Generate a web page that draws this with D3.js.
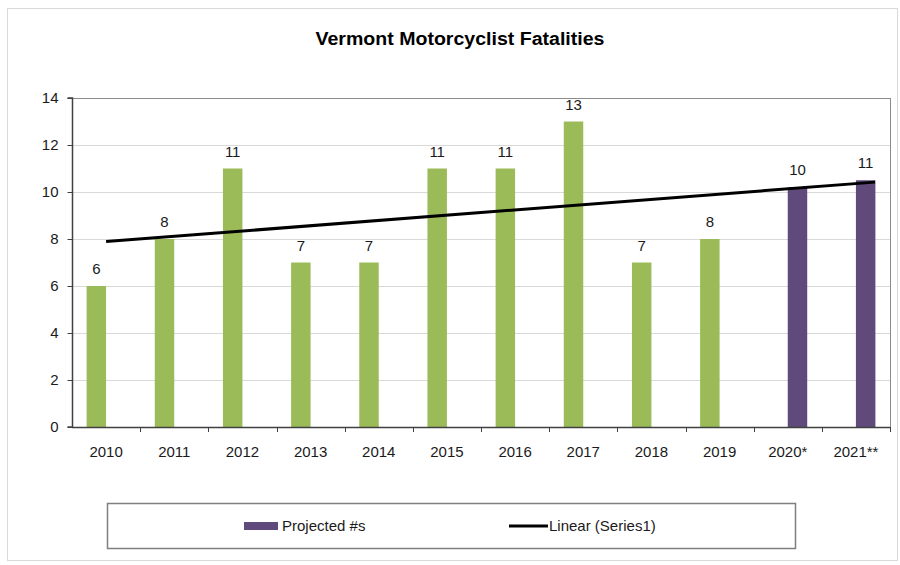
<!DOCTYPE html>
<html>
<head>
<meta charset="utf-8">
<script src="https://cdn.jsdelivr.net/npm/d3@7"></script>
<style>
  body { margin: 0; background: #fff; }
  text { font-family: "Liberation Sans", Arial, sans-serif; fill: #1a1a1a; }
</style>
</head>
<body>
<div id="chart"></div>
<script>
// chart data
const years = ["2010", "2011", "2012", "2013", "2014", "2015", "2016", "2017", "2018", "2019", "2020*", "2021**"];
const series1 = [6, 8, 11, 7, 7, 11, 11, 13, 7, 8, null, null];
const projected = [null, null, null, null, null, null, null, null, null, null, 10.2, 10.5];
const yTicks = [0, 2, 4, 6, 8, 10, 12, 14];
const seriesNames = ["Series1", "Projected #s"];
const trendName = "Linear (Series1)";
const trendForward = 2.28; // periods the trendline is extended past the last point

const W = 900, H = 565;
const m = {t: 98, r: 10, b: 138, l: 72};
const colors = {"Series1": "#9bbb59", "Projected #s": "#604a7b"};

const svg = d3.select("#chart").append("svg")
    .attr("width", W).attr("height", H);

// outer frame
svg.append("rect").attr("x", 7.5).attr("y", 8.5)
    .attr("width", 890).attr("height", 552)
    .attr("fill", "#fff").attr("stroke", "#d9d9d9");

svg.append("text").attr("x", 460).attr("y", 45)
    .attr("text-anchor", "middle")
    .style("font-size", "18px").style("font-weight", "bold")
    .style("fill", "#000")
    .attr("textLength", 289).attr("lengthAdjust", "spacingAndGlyphs")
    .text("Vermont Motorcyclist Fatalities");

const x = d3.scaleBand().domain(years).range([m.l, W - m.r]).padding(0);
const x1 = d3.scaleBand().domain(seriesNames).range([0, x.bandwidth()])
    .paddingInner(0).paddingOuter(0.75);
const y = d3.scaleLinear().domain([0, 14]).range([H - m.b, m.t]);

// gridlines
svg.append("g").selectAll("line").data(yTicks.slice(1)).enter().append("line")
    .attr("x1", m.l).attr("x2", W - m.r)
    .attr("y1", d => Math.round(y(d)) + 0.5).attr("y2", d => Math.round(y(d)) + 0.5)
    .attr("stroke", d => d === 14 ? "#8c8c8c" : "#d9d9d9");

// right border of plot area
svg.append("line").attr("x1", W - m.r + 0.5).attr("x2", W - m.r + 0.5)
    .attr("y1", m.t).attr("y2", H - m.b)
    .attr("stroke", "#8c8c8c");

// bars
const rows = years.map((yr, i) => [
    {year: yr, key: "Series1", v: series1[i]},
    {year: yr, key: "Projected #s", v: projected[i]}
]).flat().filter(d => d.v != null);

svg.append("g").selectAll("rect").data(rows).enter().append("rect")
    .attr("x", d => x(d.year) + x1(d.key))
    .attr("width", x1.bandwidth())
    .attr("y", d => y(d.v))
    .attr("height", d => y(0) - y(d.v))
    .attr("fill", d => colors[d.key]);

// value labels
svg.append("g").selectAll("text").data(rows).enter().append("text")
    .attr("x", d => x(d.year) + x1(d.key) + x1.bandwidth() / 2)
    .attr("y", d => y(d.v) - 12)
    .attr("text-anchor", "middle")
    .style("font-size", "15px")
    .text(d => d3.format(".0f")(d.v));

// linear trendline of Series1 (least squares, x = category index)
const pts = series1.map((v, i) => [i + 1, v]).filter(p => p[1] != null);
const mx = d3.mean(pts, p => p[0]), my = d3.mean(pts, p => p[1]);
const slope = d3.sum(pts, p => (p[0] - mx) * (p[1] - my)) / d3.sum(pts, p => (p[0] - mx) ** 2);
const icpt = my - slope * mx;
const tx = i => x(years[0]) + x.bandwidth() / 2 + (i - 1) * x.step();
const tEnd = pts[pts.length - 1][0] + trendForward;
svg.append("line")
    .attr("x1", tx(1)).attr("y1", y(icpt + slope))
    .attr("x2", tx(tEnd)).attr("y2", y(icpt + slope * tEnd))
    .attr("stroke", "#000").attr("stroke-width", 3);

// axes
const yAxis = svg.append("g").attr("transform", `translate(${m.l + 0.5},0)`)
    .call(d3.axisLeft(y).tickValues(yTicks).tickSize(5).tickPadding(9));
const xAxis = svg.append("g").attr("transform", `translate(0,${Math.round(y(0)) + 0.5})`)
    .call(d3.axisBottom(x).tickSize(0).tickPadding(19));
[yAxis, xAxis].forEach(a => {
    a.select(".domain").attr("stroke", "#404040").attr("stroke-width", 1.5);
    a.selectAll(".tick line").attr("stroke", "#404040");
    a.selectAll(".tick text").style("font-size", "15px").style("font-family", "Liberation Sans, Arial, sans-serif").attr("fill", "#1a1a1a");
});
yAxis.select(".domain").attr("d", `M-5,${y(0)}H0V${y(14)}H-5`);
xAxis.select(".domain").attr("d", `M${m.l},0H${W - m.r}`);

// x tick marks at category boundaries
svg.append("g").selectAll("line").data(years.slice(1).concat(["end"])).enter().append("line")
    .attr("x1", (d, i) => Math.round(m.l + (i + 1) * x.step()) + 0.5)
    .attr("x2", (d, i) => Math.round(m.l + (i + 1) * x.step()) + 0.5)
    .attr("y1", y(0)).attr("y2", y(0) + 5)
    .attr("stroke", "#404040");

// legend
const lg = svg.append("g");
lg.append("rect").attr("x", 107.5).attr("y", 503.5)
    .attr("width", 688).attr("height", 45)
    .attr("fill", "#fff").attr("stroke", "#7f7f7f").attr("stroke-width", 1.5);
lg.append("rect").attr("x", 244).attr("y", 522).attr("width", 34).attr("height", 8)
    .attr("fill", colors["Projected #s"]);
lg.append("text").attr("x", 282).attr("y", 531)
    .style("font-size", "15px").text(seriesNames[1]);
lg.append("line").attr("x1", 509).attr("x2", 548).attr("y1", 526).attr("y2", 526)
    .attr("stroke", "#000").attr("stroke-width", 3);
lg.append("text").attr("x", 549).attr("y", 531)
    .style("font-size", "15px").text(trendName);
</script>
</body>
</html>
